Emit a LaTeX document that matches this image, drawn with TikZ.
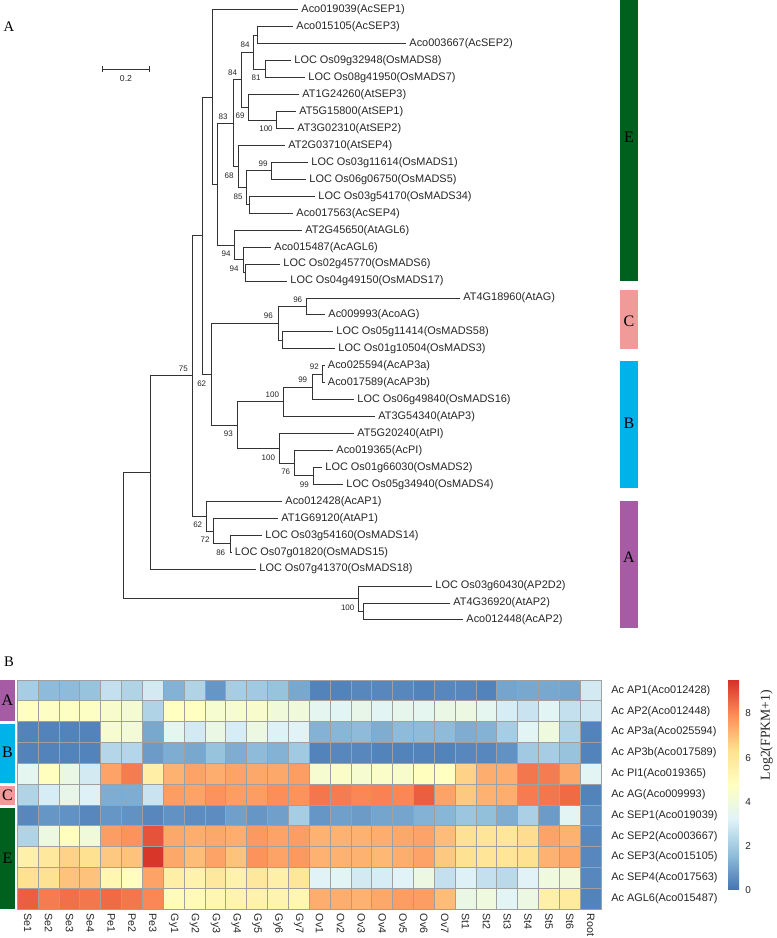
\documentclass[tikz,border=0pt]{standalone}
\usepackage{fontspec}
\setmainfont{Liberation Sans}
\newfontfamily\serifLS{Liberation Serif}
\definecolor{hs0}{HTML}{4575B4}
\definecolor{hs1}{HTML}{91BFDB}
\definecolor{hs2}{HTML}{E0F3F8}
\definecolor{hs3}{HTML}{FFFFBF}
\definecolor{hs4}{HTML}{FEE090}
\definecolor{hs5}{HTML}{FC8D59}
\definecolor{hs6}{HTML}{D73027}
\definecolor{cladeA}{HTML}{A55CA5}
\definecolor{cladeB}{HTML}{00B2EA}
\definecolor{cladeC}{HTML}{F09A9A}
\definecolor{cladeE}{HTML}{00601E}
\definecolor{gridc}{HTML}{A0A0A0}
\definecolor{ink}{HTML}{262626}
\definecolor{linec}{HTML}{333333}
\newcommand\hmset[1]{%
  \pgfmathsetmacro\hmt{min(max(#1/1.5833,0),5.999)}%
  \pgfmathtruncatemacro\hmk{floor(\hmt)}%
  \pgfmathtruncatemacro\hmf{round((\hmt-\hmk)*100)}%
  \pgfmathtruncatemacro\hmkk{\hmk+1}%
  \colorlet{hmc}{hs\hmkk!\hmf!hs\hmk}%
}
\begin{document}
\begin{tikzpicture}[x=0.75pt,y=-0.75pt,
  branch/.style={draw=linec,line width=0.75pt},
  leaf/.style={anchor=west,inner sep=0pt,xshift=2.4pt,text=ink,font=\fontsize{8.2}{9}\selectfont},
  bs/.style={inner sep=0pt,text=ink,font=\fontsize{6}{6.5}\selectfont},
  barlab/.style={inner sep=0pt,text=black,font=\serifLS\fontsize{12}{13}\selectfont},
  panel/.style={inner sep=0pt,text=black,font=\serifLS\fontsize{11}{12}\selectfont},
  rowlab/.style={anchor=west,inner sep=0pt,text=ink,font=\fontsize{8.2}{9}\selectfont},
  collab/.style={anchor=west,rotate=-90,inner sep=0pt,text=ink,font=\fontsize{8}{9}\selectfont},
  ticklab/.style={anchor=west,inner sep=0pt,text=ink,font=\fontsize{7.5}{8}\selectfont},
]
\useasboundingbox[fill=white] (0,0) rectangle (776,938);

% panel letters
\node[panel] (pA) at (9,27) {A};
\node[panel] (pB) at (9,662) {B};

% scale bar
\coordinate (sb1) at (102.7,69.3);
\coordinate (sb2) at (149,69.3);
\draw[branch] (sb1) -- (sb2);
\draw[branch] (102.7,66.3) -- (102.7,72.3);
\draw[branch] (149,66.3) -- (149,72.3);
\node[bs,font=\fontsize{6.5}{7}\selectfont] (sblab) at (126,79) {0.2};

% leaves
\coordinate (l1) at (298,10.00);   \node[leaf] (t1) at (l1) {Aco019039(AcSEP1)};
\coordinate (l2) at (293,26.94);   \node[leaf] (t2) at (l2) {Aco015105(AcSEP3)};
\coordinate (l3) at (406,43.89);   \node[leaf] (t3) at (l3) {Aco003667(AcSEP2)};
\coordinate (l4) at (291,60.83);   \node[leaf] (t4) at (l4) {LOC Os09g32948(OsMADS8)};
\coordinate (l5) at (305,77.78);   \node[leaf] (t5) at (l5) {LOC Os08g41950(OsMADS7)};
\coordinate (l6) at (299,94.72);   \node[leaf] (t6) at (l6) {AT1G24260(AtSEP3)};
\coordinate (l7) at (296,111.66);  \node[leaf] (t7) at (l7) {AT5G15800(AtSEP1)};
\coordinate (l8) at (294,128.61);  \node[leaf] (t8) at (l8) {AT3G02310(AtSEP2)};
\coordinate (l9) at (285,145.55);  \node[leaf] (t9) at (l9) {AT2G03710(AtSEP4)};
\coordinate (l10) at (308,162.50); \node[leaf] (t10) at (l10) {LOC Os03g11614(OsMADS1)};
\coordinate (l11) at (306,179.44); \node[leaf] (t11) at (l11) {LOC Os06g06750(OsMADS5)};
\coordinate (l12) at (315,196.38); \node[leaf] (t12) at (l12) {LOC Os03g54170(OsMADS34)};
\coordinate (l13) at (293,213.33); \node[leaf] (t13) at (l13) {Aco017563(AcSEP4)};
\coordinate (l14) at (302,230.27); \node[leaf] (t14) at (l14) {AT2G45650(AtAGL6)};
\coordinate (l15) at (271,247.22); \node[leaf] (t15) at (l15) {Aco015487(AcAGL6)};
\coordinate (l16) at (280,264.16); \node[leaf] (t16) at (l16) {LOC Os02g45770(OsMADS6)};
\coordinate (l17) at (287,281.10); \node[leaf] (t17) at (l17) {LOC Os04g49150(OsMADS17)};
\coordinate (l18) at (460,298.05); \node[leaf] (t18) at (l18) {AT4G18960(AtAG)};
\coordinate (l19) at (325,314.99); \node[leaf] (t19) at (l19) {Ac009993(AcoAG)};
\coordinate (l20) at (333,331.94); \node[leaf] (t20) at (l20) {LOC Os05g11414(OsMADS58)};
\coordinate (l21) at (335,348.88); \node[leaf] (t21) at (l21) {LOC Os01g10504(OsMADS3)};
\coordinate (l22) at (324.5,365.82); \node[leaf] (t22) at (l22) {Aco025594(AcAP3a)};
\coordinate (l23) at (324.5,382.77); \node[leaf] (t23) at (l23) {Aco017589(AcAP3b)};
\coordinate (l24) at (354,399.71); \node[leaf] (t24) at (l24) {LOC Os06g49840(OsMADS16)};
\coordinate (l25) at (375,416.66); \node[leaf] (t25) at (l25) {AT3G54340(AtAP3)};
\coordinate (l26) at (354,433.60); \node[leaf] (t26) at (l26) {AT5G20240(AtPI)};
\coordinate (l27) at (333,450.54); \node[leaf] (t27) at (l27) {Aco019365(AcPI)};
\coordinate (l28) at (322,467.49); \node[leaf] (t28) at (l28) {LOC Os01g66030(OsMADS2)};
\coordinate (l29) at (343,484.43); \node[leaf] (t29) at (l29) {LOC Os05g34940(OsMADS4)};
\coordinate (l30) at (282,501.38); \node[leaf] (t30) at (l30) {Aco012428(AcAP1)};
\coordinate (l31) at (278,518.32); \node[leaf] (t31) at (l31) {AT1G69120(AtAP1)};
\coordinate (l32) at (262,535.26); \node[leaf] (t32) at (l32) {LOC Os03g54160(OsMADS14)};
\coordinate (l33) at (231.5,552.21); \node[leaf] (t33) at (l33) {LOC Os07g01820(OsMADS15)};
\coordinate (l34) at (256,569.15); \node[leaf] (t34) at (l34) {LOC Os07g41370(OsMADS18)};
\coordinate (l35) at (432,586.10); \node[leaf] (t35) at (l35) {LOC Os03g60430(AP2D2)};
\coordinate (l36) at (450,603.04); \node[leaf] (t36) at (l36) {AT4G36920(AtAP2)};
\coordinate (l37) at (463,619.98); \node[leaf] (t37) at (l37) {Aco012448(AcAP2)};

% internal nodes
\coordinate (nsep32) at (257.7,35.42);
\coordinate (nos87) at (265.7,69.31);
\coordinate (n84a) at (253.3,52.36);
\coordinate (natsep12) at (276.7,120.14);
\coordinate (n69) at (248.3,107.43);
\coordinate (n84b) at (241.7,79.90);
\coordinate (nos15) at (271.7,170.97);
\coordinate (nos34) at (249.3,204.86);
\coordinate (n85) at (246.7,187.91);
\coordinate (n68) at (238.0,166.73);
\coordinate (n83) at (233.0,123.31);
\coordinate (nos617) at (245.7,272.63);
\coordinate (nagl6b) at (243.3,259.93);
\coordinate (n94) at (234.5,245.10);
\coordinate (N2) at (217.3,184.21);
\coordinate (N1) at (212.3,97.10);
\coordinate (cC1) at (306.7,306.52);
\coordinate (cC2) at (282.5,340.41);
\coordinate (nC) at (278.0,323.47);
\coordinate (n92) at (322.7,374.30);
\coordinate (n99) at (312.3,387.00);
\coordinate (nAP3) at (283.3,401.83);
\coordinate (n99b) at (313.7,475.96);
\coordinate (n76) at (294.3,463.25);
\coordinate (nPI) at (279.3,448.43);
\coordinate (nB) at (237.5,425.13);
\coordinate (nCB) at (211.0,374.30);
\coordinate (N0) at (202.0,235.70);
\coordinate (n86) at (230.0,543.74);
\coordinate (n72) at (213.3,531.03);
\coordinate (nA) at (206.7,516.21);
\coordinate (Ntop) at (192.3,375.96);
\coordinate (Nmads) at (150.0,472.56);
\coordinate (nAP2b) at (363.3,611.51);
\coordinate (nAP2) at (358.3,598.81);
\coordinate (root) at (123.7,535.69);

% branches
\foreach \p/\c in {nsep32/l2,nsep32/l3,nos87/l4,nos87/l5,n84a/nsep32,n84a/nos87,
  natsep12/l7,natsep12/l8,n69/l6,n69/natsep12,n84b/n84a,n84b/n69,
  nos15/l10,nos15/l11,nos34/l12,nos34/l13,n85/nos15,n85/nos34,n68/l9,n68/n85,
  n83/n84b,n83/n68,nos617/l16,nos617/l17,nagl6b/l15,nagl6b/nos617,n94/l14,n94/nagl6b,
  N2/n83,N2/n94,N1/l1,N1/N2,
  cC1/l18,cC1/l19,cC2/l20,cC2/l21,nC/cC1,nC/cC2,
  n92/l22,n92/l23,n99/n92,n99/l24,nAP3/n99,nAP3/l25,
  n99b/l28,n99b/l29,n76/l27,n76/n99b,nPI/l26,nPI/n76,nB/nAP3,nB/nPI,
  nCB/nC,nCB/nB,N0/N1,N0/nCB,
  n86/l32,n86/l33,n72/l31,n72/n86,nA/l30,nA/n72,
  Ntop/N0,Ntop/nA,Nmads/Ntop,Nmads/l34,
  nAP2b/l36,nAP2b/l37,nAP2/l35,nAP2/nAP2b,root/Nmads,root/nAP2}
  {\draw[branch] (\p) |- (\c);}

% bootstrap values
\node[bs] (b1) at (245,45) {84};
\node[bs] (b2) at (232.5,73) {84};
\node[bs] (b3) at (256,78) {81};
\node[bs] (b4) at (223,117) {83};
\node[bs] (b5) at (240,116) {69};
\node[bs] (b6) at (266,129) {100};
\node[bs] (b7) at (263,164) {99};
\node[bs] (b8) at (229,176) {68};
\node[bs] (b9) at (238,197) {85};
\node[bs] (b10) at (226,254) {94};
\node[bs] (b11) at (234,269) {94};
\node[bs] (b12) at (297.7,299.3) {96};
\node[bs] (b13) at (268.3,316) {96};
\node[bs] (b14) at (314.3,366.7) {92};
\node[bs] (b15) at (302.7,379.3) {99};
\node[bs] (b16) at (272.3,395) {100};
\node[bs] (b17) at (183.3,368.3) {75};
\node[bs] (b18) at (201.7,383.3) {62};
\node[bs] (b19) at (228.3,434) {93};
\node[bs] (b20) at (268.3,457.3) {100};
\node[bs] (b21) at (285.7,471.7) {76};
\node[bs] (b22) at (304.3,484.3) {99};
\node[bs] (b23) at (197.7,525) {62};
\node[bs] (b24) at (205,539.3) {72};
\node[bs] (b25) at (220.7,552.7) {86};
\node[bs] (b26) at (347.7,607.7) {100};

% clade bars (tree)
\fill[cladeE] (620,0) rectangle (638,281);
\fill[cladeC] (620,290) rectangle (638,349);
\fill[cladeB] (620,361) rectangle (638,488);
\fill[cladeA] (620,501) rectangle (638,628);
\node[barlab] (gE) at (629,137) {E};
\node[barlab] (gC) at (629,321) {C};
\node[barlab] (gB) at (629,423) {B};
\node[barlab] (gA) at (629,557) {A};

% heatmap
\foreach \rowvals [count=\r from 0] in {
 {2.0,1.5,1.5,1.7,2.6,2.2,2.9,1.3,2.2,0.7,2.0,1.9,1.7,1.1,0.3,0.3,0.4,0.4,0.4,0.3,0.4,0.4,0.3,1.0,1.1,1.1,1.0,2.9},
 {4.7,4.6,4.6,4.6,4.4,4.2,2.2,4.7,4.7,4.3,4.3,4.4,4.0,4.0,3.4,3.3,3.6,3.3,3.5,3.4,3.7,3.8,3.4,3.0,2.7,3.3,2.6,2.8},
 {0.3,0.3,0.3,0.3,4.3,4.1,1.1,3.4,2.9,3.7,3.0,3.8,3.1,3.2,1.3,1.4,1.5,1.2,1.5,1.5,1.5,1.2,1.3,2.0,3.3,3.9,2.2,0.3},
 {0.3,0.3,0.3,0.3,2.3,2.3,0.8,1.2,1.1,1.7,1.2,1.5,1.3,1.9,0.3,0.4,0.4,0.3,0.3,0.3,0.3,0.4,0.4,0.6,1.9,2.0,1.7,0.3},
 {3.4,4.8,3.7,2.9,7.5,8.2,5.6,7.2,7.5,7.3,7.5,7.4,7.4,7.6,4.3,4.5,4.3,4.5,4.4,4.8,4.7,6.6,7.3,7.3,8.3,8.2,7.4,3.3},
 {2.2,3.0,3.6,3.1,1.2,1.2,2.7,7.6,7.5,7.8,7.6,7.6,7.9,7.8,8.3,8.2,8.0,8.1,8.0,8.7,7.5,6.8,7.2,7.3,8.2,8.3,8.5,0.3},
 {0.4,0.7,0.6,0.4,0.7,0.6,0.4,0.6,0.5,0.5,0.9,0.7,0.9,2.0,0.7,0.9,0.8,1.0,1.0,1.3,1.4,1.8,1.6,1.2,2.1,0.8,3.3,0.5},
 {2.2,3.8,4.8,4.0,7.6,7.8,8.9,7.4,7.3,7.4,7.3,7.7,7.5,7.6,7.2,7.2,7.2,7.3,7.4,7.5,7.0,6.2,6.1,6.0,6.4,7.5,7.2,0.4},
 {5.5,5.9,6.6,6.3,6.8,6.9,9.4,7.4,7.0,7.5,6.9,7.8,7.5,7.7,7.2,7.2,7.2,7.1,7.3,7.5,6.8,6.2,6.1,6.1,6.3,7.2,7.4,0.4},
 {6.3,6.2,6.9,6.9,5.2,4.8,7.5,5.6,5.4,5.9,5.4,5.9,5.5,6.0,3.2,3.3,2.9,3.0,3.2,3.8,2.6,3.1,2.6,2.4,3.2,3.9,4.0,0.4},
 {8.7,8.2,8.4,8.3,8.5,8.3,8.0,4.9,5.0,5.2,5.3,5.4,5.3,5.2,7.3,7.3,7.2,7.4,7.6,7.6,7.0,3.7,3.9,3.3,3.8,5.5,5.8,0.3}}
{
  \foreach \v [count=\c from 0] in \rowvals {
    \hmset{\v}
    \filldraw[fill=hmc,draw=gridc,line width=0.6pt] ({17.3+\c*20.85},{680+\r*20.83}) rectangle ++(20.85,20.83);
  }
}

% row labels
\foreach \lab [count=\r from 0] in {Ac AP1(Aco012428),Ac AP2(Aco012448),Ac AP3a(Aco025594),Ac AP3b(Aco017589),Ac PI1(Aco019365),Ac AG(Aco009993),Ac SEP1(Aco019039),Ac SEP2(Aco003667),Ac SEP3(Aco015105),Ac SEP4(Aco017563),Ac AGL6(Aco015487)}
  {\node[rowlab] (row\r) at (611,{680+(\r+0.5)*20.83}) {\lab};}

% column labels
\foreach \lab [count=\c from 0] in {Se1,Se2,Se3,Se4,Pe1,Pe2,Pe3,Gy1,Gy2,Gy3,Gy4,Gy5,Gy6,Gy7,Ov1,Ov2,Ov3,Ov4,Ov5,Ov6,Ov7,St1,St2,St3,St4,St5,St6,Root}
  {\node[collab] (col\c) at ({17.3+(\c+0.5)*20.85},913.5) {\lab};}

% heatmap side bars
\fill[cladeA] (0,680) rectangle (15,720.5);
\fill[cladeB] (0,723.5) rectangle (15,783);
\fill[cladeC] (0,785.5) rectangle (15,804.5);
\fill[cladeE] (0,808) rectangle (15,909);
\node[barlab] (hA) at (7.5,700.5) {A};
\node[barlab] (hB) at (7.5,752.5) {B};
\node[barlab] (hC) at (7.5,795.5) {C};
\node[barlab] (hE) at (7.5,858.5) {E};

% legend
\foreach \k [evaluate=\k as \kk using int(\k+1)] in {0,...,5}
  {\shade[bottom color=hs\k, top color=hs\kk] (728,{889-\k*34.83}) rectangle (739,{889-(\k+1)*34.83});}
\foreach \t in {0,2,4,6,8}
  {\node[ticklab] (tick\t) at (745,{890.5-\t*22.15}) {\t};}
\node[rotate=90,inner sep=0pt,text=ink,font=\serifLS\fontsize{10.3}{11}\selectfont] (legtitle) at (766.5,735) {Log2(FPKM+1)};
\end{tikzpicture}
\end{document}
